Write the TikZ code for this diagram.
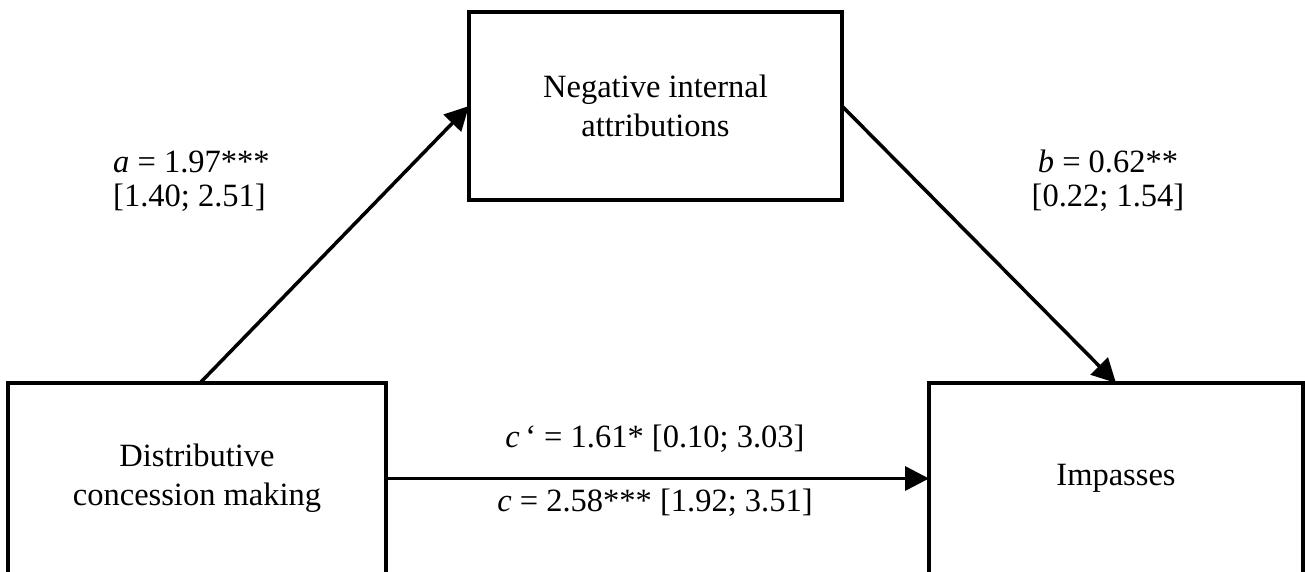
\documentclass[tikz,border=0pt]{standalone}
\usepackage{fontspec}
\setmainfont{Liberation Serif}
\usetikzlibrary{arrows.meta}
\begin{document}
\begin{tikzpicture}[x=1pt,y=-1pt,
  box/.style={draw=black,line width=4pt,rectangle,inner sep=0pt,outer sep=0pt,align=center,
    font=\fontsize{32.5}{39}\selectfont},
  lab/.style={inner sep=0pt,font=\fontsize{32.5}{34}\selectfont},
  conn/.style={line width=3.5pt,-{Triangle[length=24pt,width=24pt]}}]
\useasboundingbox[fill=white] (0,0) rectangle (1305,571);
\node[box,minimum width=378pt,minimum height=191pt] (dcm) at (197,478.5) {Distributive\\concession making};
\node[box,minimum width=373pt,minimum height=188pt] (nia) at (655.5,106) {Negative internal\\attributions};
\node[box,minimum width=374pt,minimum height=191pt] (imp) at (1116,478.5) {Impasses};
\draw[conn] ([xshift=3pt]dcm.north) -- (nia.west);
\draw[conn] (nia.east) -- (imp.north);
\draw[conn] (dcm.east) -- (imp.west);
\node[lab,anchor=west,align=left] (la) at (113,181) {\textit{a} = 1.97***\\{}[1.40; 2.51]};
\node[lab,align=center] (lb) at (1108,181) {\textit{b} = 0.62**\\{}[0.22; 1.54]};
\node[lab] (lc1) at (655,439) {\textit{c}\,‘ = 1.61* [0.10; 3.03]};
\node[lab] (lc2) at (655,503) {\textit{c} = 2.58*** [1.92; 3.51]};
\end{tikzpicture}
\end{document}
